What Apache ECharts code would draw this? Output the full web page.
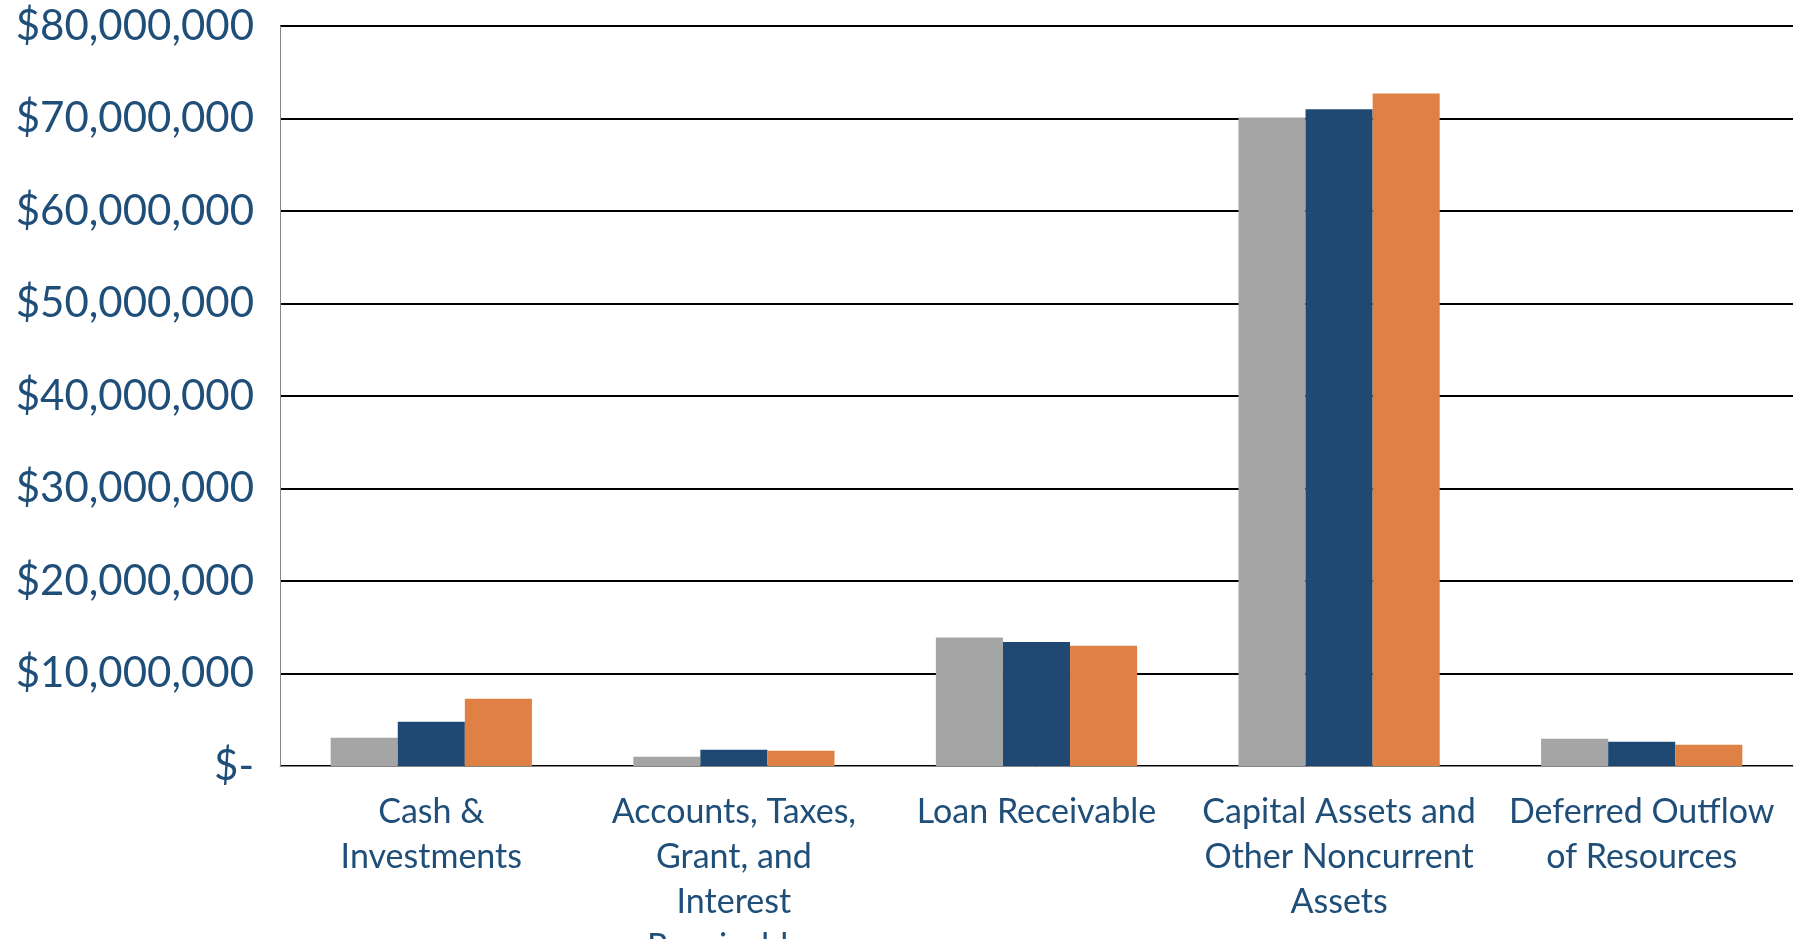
<!DOCTYPE html>
<html>
<head>
<meta charset="utf-8">
<script src="https://cdn.jsdelivr.net/npm/echarts@6/dist/echarts.min.js"></script>
<style>
  html, body { margin: 0; padding: 0; background: #ffffff; }
  #chart { width: 1802px; height: 939px; }
</style>
</head>
<body>
<div id="chart"></div>
<script>
// Asset categories (line breaks as printed under the axis)
const categories = [
  'Cash &\nInvestments',
  'Accounts, Taxes,\nGrant, and\nInterest\nReceivables',
  'Loan Receivable',
  'Capital Assets and\nOther Noncurrent\nAssets',
  'Deferred Outflow\nof Resources'
];

// Three fiscal years of values, oldest first
const seriesYear1 = [3060000, 1000000, 13900000, 70100000, 2950000];
const seriesYear2 = [4780000, 1760000, 13400000, 71000000, 2630000];
const seriesYear3 = [7270000, 1650000, 12990000, 72700000, 2300000];

const yTicks = [0, 10000000, 20000000, 30000000, 40000000, 50000000, 60000000, 70000000, 80000000];

const textBlue = '#1F4E79';
const fontFamily = 'Lato, "Open Sans", sans-serif';

function money(v) {
  if (v === 0) return '$-';
  return '$' + v.toLocaleString('en-US');
}

const chart = echarts.init(document.getElementById('chart'), null, { renderer: 'canvas' });

chart.setOption({
  animation: false,
  backgroundColor: '#ffffff',
  grid: {
    left: 280, right: 9, top: 26, bottom: 173,
    containLabel: false,
    outerBoundsMode: 'none'
  },
  xAxis: {
    type: 'category',
    data: categories,
    axisTick: { show: false },
    axisLine: { show: true, lineStyle: { color: '#868686', width: 1 } },
    axisLabel: {
      interval: 0,
      margin: 24,
      color: textBlue,
      fontFamily: fontFamily,
      fontSize: 34,
      lineHeight: 45,
      align: 'center',
      hideOverlap: false
    }
  },
  yAxis: {
    type: 'value',
    min: yTicks[0],
    max: yTicks[yTicks.length - 1],
    interval: yTicks[1] - yTicks[0],
    axisTick: { show: false },
    axisLine: { show: true, lineStyle: { color: '#868686', width: 1 } },
    splitLine: { show: true, lineStyle: { color: '#000000', width: 2 } },
    axisLabel: {
      margin: 26,
      color: textBlue,
      fontFamily: fontFamily,
      fontSize: 42,
      formatter: money
    }
  },
  series: [
    {
      type: 'bar', data: seriesYear1, barGap: '0%', barCategoryGap: '33.5%',
      itemStyle: { color: '#A5A5A5' }
    },
    {
      type: 'bar', data: seriesYear2, barGap: '0%', barCategoryGap: '33.5%',
      itemStyle: { color: '#1F4873' }
    },
    {
      type: 'bar', data: seriesYear3, barGap: '0%', barCategoryGap: '33.5%',
      itemStyle: { color: '#DF8045' }
    }
  ]
});
</script>
</body>
</html>
